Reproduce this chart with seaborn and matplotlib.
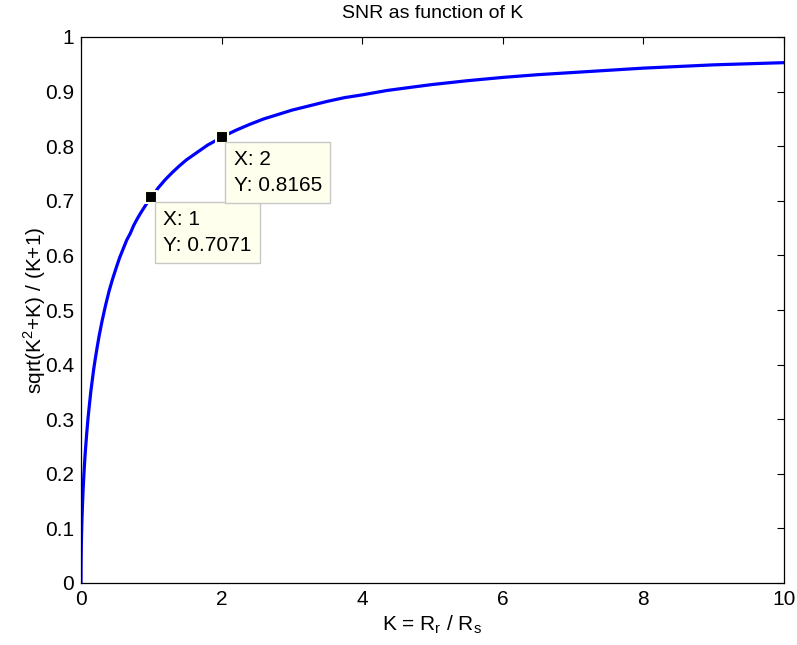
import matplotlib
matplotlib.use("Agg")
import matplotlib.pyplot as plt
import seaborn as sns
import pandas as pd

# values
k_values = [0, 0.001, 0.002, 0.004, 0.007, 0.01, 0.015, 0.02, 0.03, 0.04, 0.05, 0.06, 0.08,
            0.1, 0.12, 0.14, 0.16, 0.18, 0.2, 0.23, 0.26, 0.3, 0.35, 0.4, 0.45, 0.5, 0.55,
            0.6, 0.65, 0.7, 0.75, 0.8, 0.85, 0.9, 0.95, 1.0, 1.1, 1.2, 1.3, 1.4, 1.5, 1.6,
            1.7, 1.8, 1.9, 2.0, 2.2, 2.4, 2.6, 2.8, 3.0, 3.25, 3.5, 3.75, 4.0, 4.35, 4.7,
            5.0, 5.5, 6.0, 6.5, 7.0, 7.5, 8.0, 8.5, 9.0, 9.5, 10.0]
snr_values = [0, 0.0316, 0.0447, 0.0631, 0.0834, 0.0995, 0.121, 0.140, 0.170, 0.196, 0.218,
              0.238, 0.272, 0.302, 0.327, 0.351, 0.371, 0.391, 0.408, 0.432, 0.454, 0.480,
              0.509, 0.535, 0.557, 0.577, 0.596, 0.612, 0.628, 0.640, 0.655, 0.667, 0.678,
              0.688, 0.698, 0.7071, 0.724, 0.739, 0.752, 0.764, 0.775, 0.784, 0.793, 0.802,
              0.809, 0.8165, 0.829, 0.840, 0.850, 0.858, 0.866, 0.874, 0.882, 0.889, 0.894,
              0.902, 0.908, 0.913, 0.920, 0.926, 0.931, 0.935, 0.939, 0.943, 0.946, 0.949,
              0.951, 0.953]
tip_x = [1, 2]
tip_y = [0.7071, 0.8165]
tip_labels = ["X: 1\nY: 0.7071", "X: 2\nY: 0.8165"]
x_ticks = [0, 2, 4, 6, 8, 10]
y_ticks = [0, 0.1, 0.2, 0.3, 0.4, 0.5, 0.6, 0.7, 0.8, 0.9, 1]
y_tick_labels = ["0", "0.1", "0.2", "0.3", "0.4", "0.5", "0.6", "0.7", "0.8", "0.9", "1"]

sns.set_style("white")
plt.rcParams['font.family'] = ['Liberation Sans', 'DejaVu Sans']
plt.rcParams['text.color'] = 'black'
plt.rcParams['axes.labelcolor'] = 'black'

df = pd.DataFrame({"K": k_values, "SNR": snr_values})

fig = plt.figure(figsize=(7.97, 6.45), dpi=100)
ax = fig.add_axes([81/797, 62/645, 703/797, 546/645])

sns.lineplot(data=df, x="K", y="SNR", ax=ax, color="#0000ff", linewidth=2.3)

ax.set_xlim(0, 10)
ax.set_ylim(0, 1)
ax.set_xticks(x_ticks)
ax.set_xticklabels([str(t) for t in x_ticks])
ax.set_yticks(y_ticks)
ax.set_yticklabels(y_tick_labels)
ax.tick_params(direction="in", length=5, width=0.8, top=True, right=True,
               labelsize=15, colors="black", pad=5)
for s in ax.spines.values():
    s.set_color("black")
    s.set_linewidth(0.9)

ax.set_title("SNR as function of K", fontsize=14, pad=14, color="black")
ax.set_xlabel(r"K = R$_\mathregular{r}$ / R$_\mathregular{s}$", fontsize=15, labelpad=3,
              color="black")
ax.set_ylabel(r"sqrt(K$^\mathregular{2}$+K) / (K+1)", fontsize=15, labelpad=-2,
              color="black")

ax.scatter(tip_x, tip_y, marker="s", s=65, color="black", edgecolors="#fffff0",
           linewidths=1.5, zorder=5)
for x, y, lab in zip(tip_x, tip_y, tip_labels):
    ax.annotate(lab, xy=(x, y), xytext=(12, -13), textcoords="offset pixels",
                ha="left", va="top", fontsize=15, linespacing=1.45, color="black",
                bbox=dict(boxstyle="square,pad=0.4", facecolor="#ffffee",
                          edgecolor="#c8c8c8", linewidth=1), zorder=6)

fig.savefig("out.png", dpi=100)
